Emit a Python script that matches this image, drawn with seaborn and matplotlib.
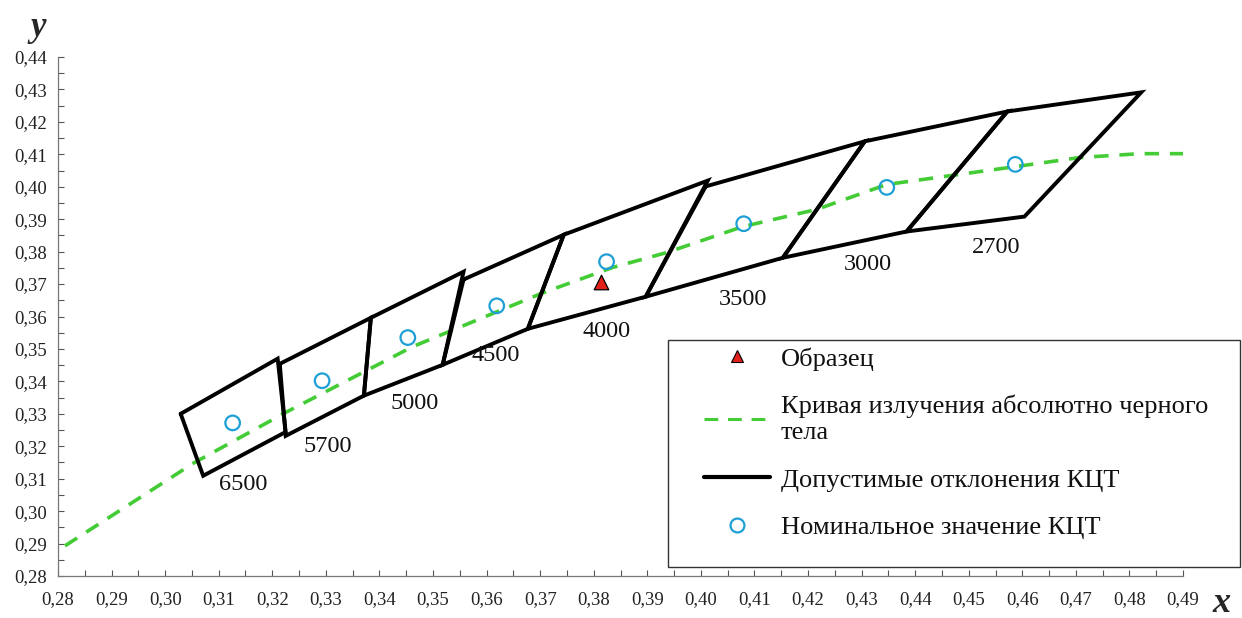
import numpy as np
import pandas as pd
import matplotlib
matplotlib.use("Agg")
import matplotlib.pyplot as plt
from matplotlib.lines import Line2D
from matplotlib.patches import Rectangle
from matplotlib.ticker import MultipleLocator, FuncFormatter
import seaborn as sns

# ---------------- data ----------------
cct_labels = ["6500", "5700", "5000", "4500", "4000", "3500", "3000", "2700"]

# quadrangle corners (TL, TR, BR, BL) for each CCT
quad_x = [
    [0.3029, 0.3210, 0.3225, 0.3071],
    [0.3214, 0.3384, 0.3371, 0.3225],
    [0.3384, 0.3557, 0.3518, 0.3371],
    [0.3557, 0.3744, 0.3677, 0.3518],
    [0.3744, 0.4013, 0.3897, 0.3677],
    [0.4009, 0.4306, 0.4153, 0.3897],
    [0.4306, 0.4572, 0.4384, 0.4153],
    [0.4572, 0.4822, 0.4604, 0.4384],
]
quad_y = [
    [0.3300, 0.3470, 0.3244, 0.3109],
    [0.3454, 0.3596, 0.3356, 0.3232],
    [0.3596, 0.3738, 0.3451, 0.3356],
    [0.3714, 0.3852, 0.3562, 0.3451],
    [0.3852, 0.4019, 0.3661, 0.3562],
    [0.4001, 0.4140, 0.3781, 0.3661],
    [0.4140, 0.4232, 0.3862, 0.3781],
    [0.4232, 0.4291, 0.3908, 0.3862],
]

# nominal CCT points
nominal_x = [0.3126, 0.3293, 0.3453, 0.3619, 0.3824, 0.4080, 0.4347, 0.4587]
nominal_y = [0.3272, 0.3402, 0.3535, 0.3633, 0.3769, 0.3886, 0.3998, 0.4069]

# sample
sample_x = [0.3813]
sample_y = [0.3707]

# blackbody (Planckian) locus
locus_x = [0.2813, 0.3054, 0.3227, 0.3462, 0.3705, 0.3835, 0.3936, 0.4078,
           0.4216, 0.4347, 0.4587, 0.4707, 0.4819, 0.4906]
locus_y = [0.2893, 0.3149, 0.3306, 0.3507, 0.3673, 0.3751, 0.3797, 0.3877,
           0.3930, 0.4007, 0.4062, 0.4090, 0.4102, 0.4102]

# CCT label anchors
label_x = [0.3145, 0.3304, 0.3466, 0.3617, 0.3824, 0.4078, 0.4311, 0.4552]
label_y = [0.3081, 0.3198, 0.3331, 0.3479, 0.3553, 0.3652, 0.3760, 0.3812]

legend_labels = ["Образец",
                 "Кривая излучения абсолютно черного\nтела",
                 "Допустимые отклонения КЦТ",
                 "Номинальное значение КЦТ"]

# ---------------- style ----------------
sns.set_theme(style="white")
plt.rcParams["font.family"] = ["Liberation Serif", "DejaVu Serif"]

green = "#44cc36"
blue = "#1e9fd6"
red = "#e3211a"
W, H = 1242, 618

fig = plt.figure(figsize=(12.42, 6.18), dpi=100)
ax = fig.add_axes([58 / W, 1 - 576 / H, (1183 - 58) / W, (576 - 57) / H])

# locus
locus_df = pd.DataFrame({"x": locus_x, "y": locus_y})
sns.lineplot(data=locus_df, x="x", y="y", sort=False, estimator=None, ax=ax,
             color=green, linestyle=(0, (4.0, 3.0)), linewidth=2.6, zorder=2)

# quadrangles
for qx, qy in zip(quad_x, quad_y):
    qdf = pd.DataFrame({"x": qx + [qx[0]], "y": qy + [qy[0]]})
    sns.lineplot(data=qdf, x="x", y="y", sort=False, estimator=None, ax=ax,
                 color="black", linewidth=2.8, zorder=3,
                 solid_joinstyle="miter")

# nominal points
nom_df = pd.DataFrame({"x": nominal_x, "y": nominal_y})
sns.scatterplot(data=nom_df, x="x", y="y", ax=ax, marker="o", s=110,
                facecolor="none", edgecolor=blue, linewidth=1.6, zorder=4)

# sample
smp_df = pd.DataFrame({"x": sample_x, "y": sample_y})
sns.scatterplot(data=smp_df, x="x", y="y", ax=ax, marker="^", s=110,
                color=red, edgecolor="black", linewidth=0.9, zorder=5)

# CCT labels
for lx, ly, t in zip(label_x, label_y, cct_labels):
    ax.text(lx, ly, t, fontsize=17.5, ha="center", va="center", color="#111111")

# axes
ax.set_xlim(0.28, 0.49)
ax.set_ylim(0.28, 0.44)
ax.xaxis.set_major_locator(MultipleLocator(0.01))
ax.xaxis.set_minor_locator(MultipleLocator(0.005))
ax.yaxis.set_major_locator(MultipleLocator(0.01))
ax.yaxis.set_minor_locator(MultipleLocator(0.005))
fmt = FuncFormatter(lambda v, p: f"{v:.2f}".replace(".", ","))
ax.xaxis.set_major_formatter(fmt)
ax.yaxis.set_major_formatter(fmt)
ax.tick_params(axis="x", which="both", direction="in", length=4, width=0.8,
               color="#555555", labelsize=13.5, labelcolor="#222222", pad=11,
               bottom=True)
ax.tick_params(axis="y", which="both", direction="in", length=4, width=0.8,
               color="#555555", labelsize=13.5, labelcolor="#222222", pad=8,
               left=True)
ax.set_xlabel("")
ax.set_ylabel("")
for s in ["top", "right"]:
    ax.spines[s].set_visible(False)
for s in ["left", "bottom"]:
    ax.spines[s].set_color("#777777")
    ax.spines[s].set_linewidth(0.9)

fig.text(38 / W, 1 - 36 / H, "y", fontsize=25, fontweight="bold",
         fontstyle="italic", ha="center", va="baseline")
fig.text(1221 / W, 1 - 612 / H, "x", fontsize=26, fontweight="bold",
         fontstyle="italic", ha="center", va="baseline")

# legend frame
fig.patches.append(Rectangle((668 / W, 1 - 567 / H), (1240 - 668) / W,
                             (567 - 340) / H, transform=fig.transFigure,
                             facecolor="white", edgecolor="#333333",
                             linewidth=1.0, zorder=0))

# legend
handles = [
    Line2D([], [], linestyle="none", marker="^", markersize=9,
           markerfacecolor=red, markeredgecolor="black", markeredgewidth=0.8),
    Line2D([], [], color=green, linestyle=(0, (4.5, 3.2)), linewidth=2.2),
    Line2D([], [], color="black", linewidth=3),
    Line2D([], [], linestyle="none", marker="o", markersize=10,
           markerfacecolor="none", markeredgecolor=blue, markeredgewidth=1.6),
]
leg = fig.legend(handles, legend_labels, loc="upper left",
                 bbox_to_anchor=(704 / W, 1 - 347 / H),
                 bbox_transform=fig.transFigure,
                 fontsize=19, frameon=False, borderpad=0, labelspacing=0.9,
                 handlelength=2.5, handletextpad=0.42, borderaxespad=0)
for t in leg.get_texts():
    t.set_linespacing(1.27)
    t.set_color("#111111")

fig.savefig("out.png", dpi=100)
